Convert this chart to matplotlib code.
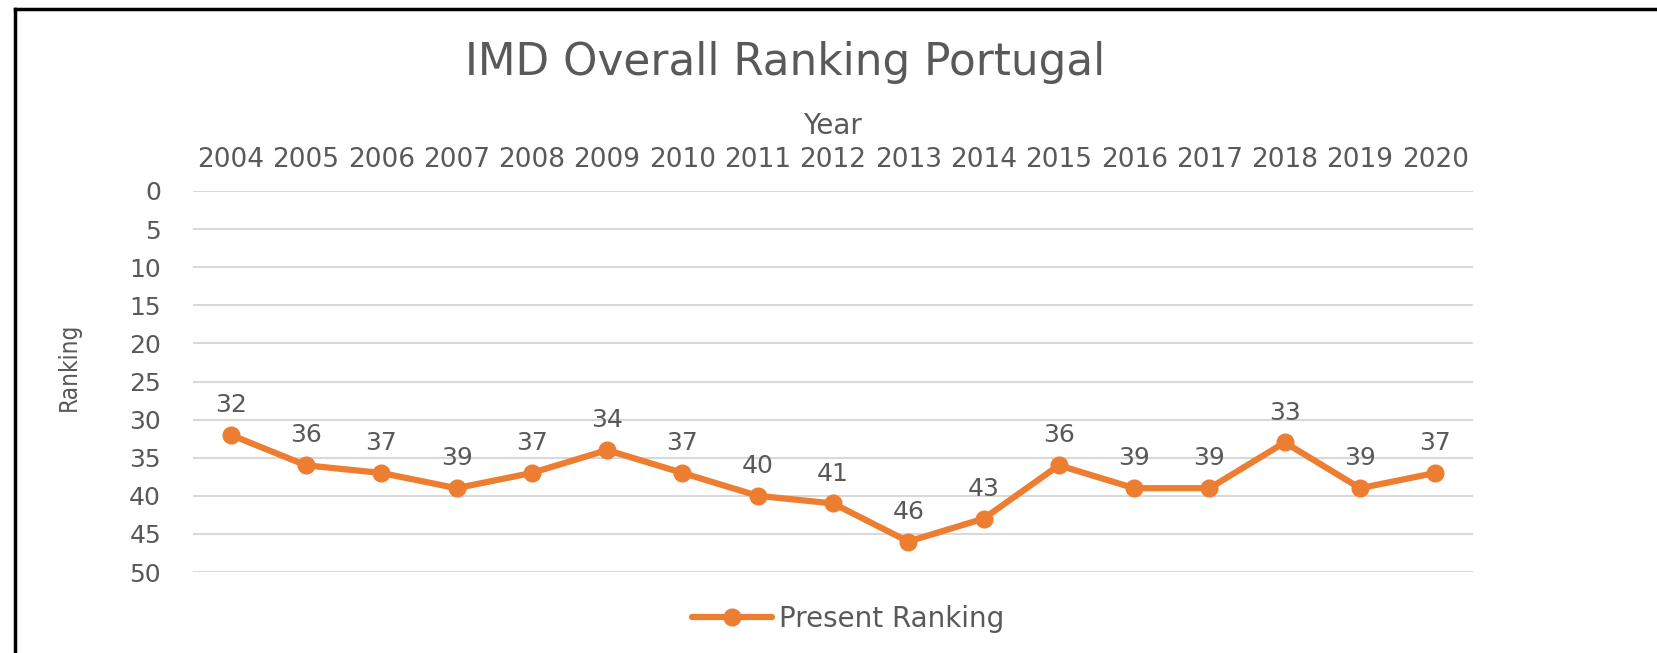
import matplotlib
matplotlib.use("Agg")
import matplotlib.pyplot as plt
from matplotlib.lines import Line2D

years = ["2004", "2005", "2006", "2007", "2008", "2009", "2010", "2011", "2012",
         "2013", "2014", "2015", "2016", "2017", "2018", "2019", "2020"]
ranking = [32, 36, 37, 39, 37, 34, 37, 40, 41, 46, 43, 36, 39, 39, 33, 39, 37]
yticks = [0, 5, 10, 15, 20, 25, 30, 35, 40, 45, 50]

TXT = "#595959"
ORANGE = "#ED7D31"
GRID = "#D9D9D9"

plt.rcParams['font.family'] = ['DejaVu Sans']

W, H = 1658, 653
fig = plt.figure(figsize=(W / 100, H / 100), dpi=100)
fig.patch.set_facecolor("white")

ax = fig.add_axes([193 / W, 81 / H, 1280 / W, 381 / H])
x = list(range(len(years)))
ax.plot(x, ranking, color=ORANGE, lw=4.5, marker='o', ms=12,
        solid_capstyle='round', label="Present Ranking", zorder=3)

ax.set_xlim(-0.5, len(years) - 0.5)
ax.set_ylim(50, 0)
ax.set_yticks(yticks)
ax.set_yticklabels([str(t) for t in yticks])
ax.xaxis.tick_top()
ax.set_xticks(x)
ax.set_xticklabels(years)
ax.tick_params(axis='x', length=0, pad=13, labelsize=19, colors=TXT)
ax.tick_params(axis='y', length=0, pad=23, labelsize=18, colors=TXT)
ax.yaxis.grid(True, color=GRID, lw=1.5)
ax.xaxis.grid(False)
ax.set_axisbelow(True)
for s in ax.spines.values():
    s.set_visible(False)

for i, v in enumerate(ranking):
    ax.annotate(str(v), (i, v), xytext=(0, 21.5), textcoords='offset points',
                ha='center', va='center', fontsize=18, color=TXT)

fig.text(785 / W, 1 - 62 / H, "IMD Overall Ranking Portugal", ha='center',
         va='center', fontsize=31.5, color=TXT)
fig.text(832 / W, 1 - 126 / H, "Year", ha='center', va='center',
         fontsize=20, color=TXT)
fig.text(69 / W, 1 - 367 / H, "Ranking", ha='center', va='center',
         rotation=90, fontsize=17.5, color=TXT, fontstretch='condensed')

fig.legend(loc='center', bbox_to_anchor=(848 / W, 1 - 619 / H), frameon=False,
           fontsize=20, handlelength=2.9, handletextpad=0.25, labelcolor=TXT)

fig.add_artist(Line2D([15 / W, 15 / W], [0, 1 - 8.5 / H], transform=fig.transFigure,
                      color='black', lw=2.5))
fig.add_artist(Line2D([15 / W, 1], [1 - 8.5 / H, 1 - 8.5 / H], transform=fig.transFigure,
                      color='black', lw=2.5))

fig.savefig("out.png", dpi=100, facecolor="white")
